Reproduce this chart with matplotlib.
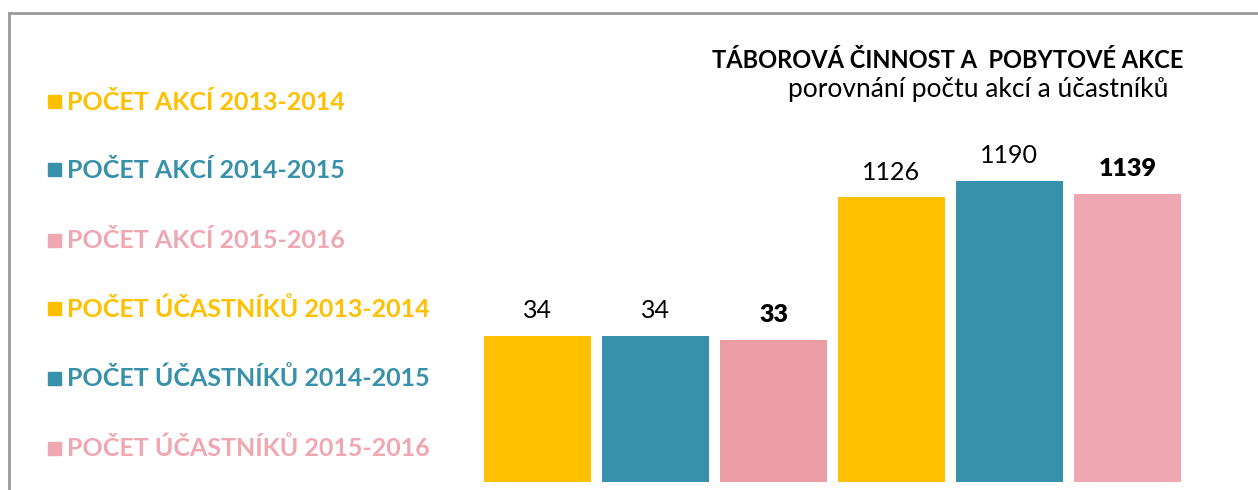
import matplotlib.pyplot as plt
from matplotlib.lines import Line2D
from matplotlib.patches import Rectangle

plt.rcParams['font.family'] = ['Lato', 'DejaVu Sans']

# data
legend_labels = ['POČET AKCÍ 2013-2014', 'POČET AKCÍ 2014-2015', 'POČET AKCÍ 2015-2016',
                 'POČET ÚČASTNÍKŮ 2013-2014', 'POČET ÚČASTNÍKŮ 2014-2015', 'POČET ÚČASTNÍKŮ 2015-2016']
akce = [34, 34, 33]
ucastnici = [1126, 1190, 1139]
bar_colors = ['#FFC000', '#3891AA', '#EA9DA5']
part_colors = ['#FFC000', '#3891AA', '#EFA7B2']
legend_colors = ['#FFC000', '#3891AA', '#EFA7B2', '#FFC000', '#3891AA', '#EFA7B2']
bold_label = [False, False, True]

W, H = 1258, 490
fig = plt.figure(figsize=(W / 100, H / 100), dpi=100)

ax = fig.add_axes([484 / W, 8 / H, 697 / W, 442 / H])
ax2 = ax.twinx()

ax.bar(range(3), akce, width=0.91, color=bar_colors)
ax2.bar(range(3, 6), ucastnici, width=0.91, color=part_colors)
ax.set_xlim(-0.455, 5.455)
ax.set_ylim(0, 103)
ax2.set_ylim(0, 1749)

for i, v in enumerate(akce):
    ax.annotate(str(v), (i, v), xytext=(0, 10), textcoords='offset points',
                ha='center', va='bottom', fontsize=18,
                fontweight='heavy' if bold_label[i] else 'normal')
for i, v in enumerate(ucastnici):
    ax2.annotate(str(v), (i + 3, v), xytext=(0, 10), textcoords='offset points',
                 ha='center', va='bottom', fontsize=18,
                 fontweight='heavy' if bold_label[i] else 'normal')

for a in (ax, ax2):
    a.axis('off')

# legend on the left
rows_y = [102, 170, 240, 309, 378, 448]
for lab, col, y in zip(legend_labels, legend_colors, rows_y):
    fig.add_artist(Rectangle((48 / W, 1 - (y + 6.5) / H), 13 / W, 13 / H,
                             color=col, transform=fig.transFigure))
    fig.text(67 / W, 1 - y / H, lab, color=col, fontsize=18, fontweight='bold',
             va='center', ha='left')

# titles
fig.text(1183 / W, 1 - 60 / H, 'TÁBOROVÁ ČINNOST A  POBYTOVÉ AKCE', fontsize=17,
         fontweight='bold', ha='right', va='center')
fig.text(1168 / W, 1 - 90 / H, 'porovnání počtu akcí a účastníků', fontsize=19,
         ha='right', va='center')

# frame lines
fig.add_artist(Line2D([8.5 / W, 8.5 / W], [0, 1 - 13.5 / H], color='#999999', lw=2))
fig.add_artist(Line2D([8.5 / W, 1], [1 - 13.5 / H, 1 - 13.5 / H], color='#999999', lw=2))

fig.savefig('out.png', dpi=100)
